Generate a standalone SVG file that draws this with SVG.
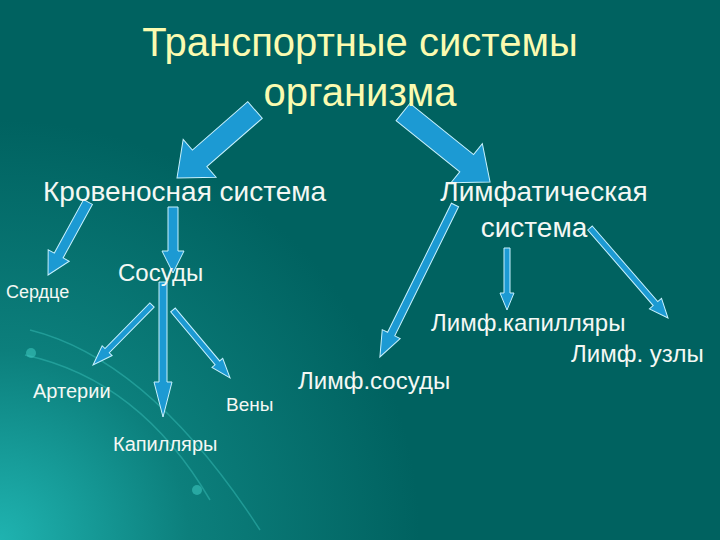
<svg xmlns="http://www.w3.org/2000/svg" width="720" height="540" viewBox="0 0 720 540">
<defs>
<radialGradient id="bg" cx="0" cy="540" r="420" gradientUnits="userSpaceOnUse">
<stop offset="0" stop-color="#1fb3b0"/><stop offset="0.45" stop-color="#0c7f7c"/><stop offset="1" stop-color="#006260"/>
</radialGradient>
<style>
.t{font-family:"Liberation Sans",Arial,sans-serif;fill:#f4f8f4}
.a{fill:#1c9ad3;stroke:#c8f2ff;stroke-width:1}
.arc{fill:none;stroke:#3cc4bc;stroke-opacity:0.45;stroke-width:1.5}
</style>
</defs>
<rect width="720" height="540" fill="url(#bg)"/>
<g id="decor">
<path class="arc" d="M30,330 Q150,360 260,530"/>
<path class="arc" d="M25,355 Q140,380 210,500"/>
<circle cx="31" cy="353" r="5" fill="#3cc4bc" opacity="0.6"/>
<circle cx="197" cy="490" r="5" fill="#3cc4bc" opacity="0.6"/>
</g>
<g id="connectors">
<polygon class="a" transform="translate(255,110) rotate(138.9)" points="0,-11 73.5,-11 73.5,-25 103.5,0 73.5,25 73.5,11 0,11"/>
<polygon class="a" transform="translate(403,112) rotate(38.8)" points="0,-11 81.7,-11 81.7,-25 111.7,0 81.7,25 81.7,11 0,11"/>
<polygon class="a" transform="translate(88,202) rotate(118.7)" points="0,-5 61,-5 61,-12 83.2,0 61,12 61,5 0,5"/>
<polygon class="a" transform="translate(173,207) rotate(90)" points="0,-5 44,-5 44,-11 66,0 44,11 44,5 0,5"/>
<polygon class="a" transform="translate(163,282) rotate(90)" points="0,-4 100,-4 100,-9 135,0 100,9 100,4 0,4"/>
<polygon class="a" transform="translate(152,305) rotate(134.5)" points="0,-3 64,-3 64,-7 84.1,0 64,7 64,3 0,3"/>
<polygon class="a" transform="translate(173,310) rotate(50)" points="0,-3 69,-3 69,-7 88.7,0 69,7 69,3 0,3"/>
<polygon class="a" transform="translate(455,205) rotate(116.3)" points="0,-4 144,-4 144,-10 169.5,0 144,10 144,4 0,4"/>
<polygon class="a" transform="translate(507,248) rotate(90)" points="0,-3 45,-3 45,-7 62,0 45,7 45,3 0,3"/>
<polygon class="a" transform="translate(590,228) rotate(49.1)" points="0,-3 100,-3 100,-8 119.1,0 100,8 100,3 0,3"/>
</g>
<g id="title"><text class="t" x="360" y="56" font-size="40" text-anchor="middle" style="fill:#fbfbb0">Транспортные системы</text>
<text class="t" x="360" y="106" font-size="40" text-anchor="middle" style="fill:#fbfbb0">организма</text></g>
<g id="krov"><text class="t" x="43" y="201" font-size="28">Кровеносная система</text></g>
<g id="limf"><text class="t" x="544" y="201" font-size="28" text-anchor="middle">Лимфатическая</text>
<text class="t" x="534" y="237" font-size="28" text-anchor="middle">система</text></g>
<g id="serdce"><text class="t" x="6" y="298" font-size="18">Сердце</text></g>
<g id="sosudy"><text class="t" x="118" y="281" font-size="24">Сосуды</text></g>
<g id="arterii"><text class="t" x="33" y="398" font-size="20">Артерии</text></g>
<g id="kapil"><text class="t" x="113" y="451" font-size="20">Капилляры</text></g>
<g id="veny"><text class="t" x="226" y="411" font-size="19">Вены</text></g>
<g id="lsosudy"><text class="t" x="298" y="389" font-size="24">Лимф.сосуды</text></g>
<g id="lkap"><text class="t" x="431" y="331" font-size="24">Лимф.капилляры</text></g>
<g id="luzly"><text class="t" x="571" y="362" font-size="24">Лимф. узлы</text></g>
</svg>
